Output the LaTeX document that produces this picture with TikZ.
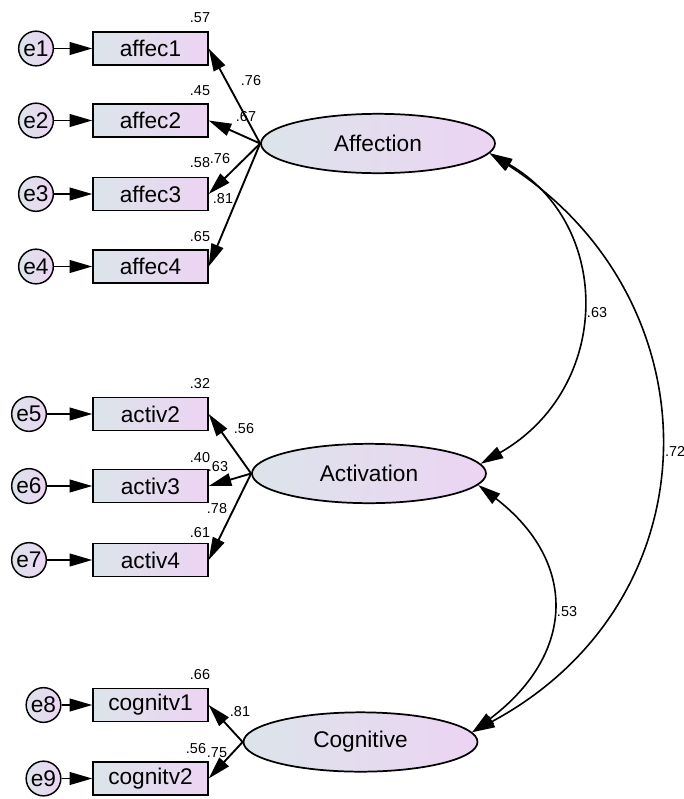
\documentclass[tikz,border=0pt]{standalone}
\usepackage{fontspec}
\setmainfont{Liberation Sans}
\usetikzlibrary{arrows.meta,shapes.geometric}
\definecolor{fillL}{RGB}{220,228,234}
\definecolor{fillR}{RGB}{236,212,243}
\tikzset{
  obs/.style={draw, rectangle, line width=1.3pt, minimum width=86pt, minimum height=24.75pt,
    inner sep=0pt, left color=fillL, right color=fillR, font=\fontsize{17}{19}\selectfont},
  err/.style={draw, circle, line width=1.1pt, minimum size=26pt, inner sep=0pt,
    left color=fillL, right color=fillR, font=\fontsize{17}{19}\selectfont},
  lat/.style={draw, ellipse, line width=1.3pt, minimum width=175.5pt, minimum height=44.5pt,
    inner sep=0pt, left color=fillL, right color=fillR, font=\fontsize{17}{19}\selectfont},
  tip/.style={-{Triangle[length=17pt,width=9.5pt]}},
  path/.style={line width=1.4pt, tip},
  cov/.style={line width=1.2pt, {Triangle[length=17pt,width=9.5pt]}-{Triangle[length=17pt,width=9.5pt]}},
  est/.style={inner sep=0pt, font=\fontsize{10.8}{12}\selectfont}
}
\begin{document}
\begin{tikzpicture}[x=0.75pt,y=-0.75pt]
\useasboundingbox (0,0) rectangle (683,799);

% latent factors
\node[lat] (Aff) at (378,143.5) {Affection};
\node[lat] (Act) at (369,473.5) {Activation};
\node[lat] (Cog) at (360.5,742) {Cognitive};

% observed indicators
\node[obs] (b1) at (150.5,48.5) {affec1};
\node[obs] (b2) at (150.5,120.5) {affec2};
\node[obs] (b3) at (150.5,194) {affec3};
\node[obs] (b4) at (150.5,266.5) {affec4};
\node[obs] (b5) at (150.5,414) {activ2};
\node[obs] (b6) at (150.5,486) {activ3};
\node[obs] (b7) at (150.5,560) {activ4};
\node[obs] (b8) at (150.5,705) {cognitv1};
\node[obs] (b9) at (150.5,778.5) {cognitv2};

% error terms
\node[err] (e1) at (36,48.5) {e1};
\node[err] (e2) at (36,120.5) {e2};
\node[err] (e3) at (36,194) {e3};
\node[err] (e4) at (36,266.5) {e4};
\node[err] (e5) at (29,414) {e5};
\node[err] (e6) at (29,486) {e6};
\node[err] (e7) at (29,560) {e7};
\node[err] (e8) at (43.5,705) {e8};
\node[err] (e9) at (43.5,778.5) {e9};

\foreach \i in {1,...,9} \draw[path] (e\i) -- (b\i);

% factor loadings
\foreach \i in {1,...,4} \draw[path] (Aff.west) -- (b\i.east);
\foreach \i in {5,6,7} \draw[path] (Act.west) -- (b\i.east);
\foreach \i in {8,9} \draw[path] (Cog.west) -- (b\i.east);

% covariances
\draw[cov] (Aff.-5) .. controls (613,224) and (613,388) .. (Act.5.5);
\draw[cov] (Aff.-5) .. controls (718,300) and (718,600) .. (Cog.5);
\draw[cov] (Act.-6) .. controls (577,561) and (577,653) .. (Cog.5);

% squared multiple correlations
\node[est] (r1) at (200,18) {.57};
\node[est] (r2) at (200,91) {.45};
\node[est] (r3) at (200,163) {.58};
\node[est] (r4) at (200,237) {.65};
\node[est] (r5) at (200,384) {.32};
\node[est] (r6) at (200,458) {.40};
\node[est] (r7) at (200,533) {.61};
\node[est] (r8) at (200,675) {.66};
\node[est] (r9) at (196,749) {.56};

% standardized loadings
\node[est] (l1) at (251,81) {.76};
\node[est] (l2) at (246,117) {.67};
\node[est] (l3) at (220,159) {.76};
\node[est] (l4) at (223,199) {.81};
\node[est] (l5) at (244,429) {.56};
\node[est] (l6) at (218,467) {.63};
\node[est] (l7) at (217,509) {.78};
\node[est] (l8) at (240,712) {.81};
\node[est] (l9) at (217,753) {.75};

% correlations
\node[est] (c1) at (597,313) {.63};
\node[est] (c2) at (675,451) {.72};
\node[est] (c3) at (567,612) {.53};
\end{tikzpicture}
\end{document}
